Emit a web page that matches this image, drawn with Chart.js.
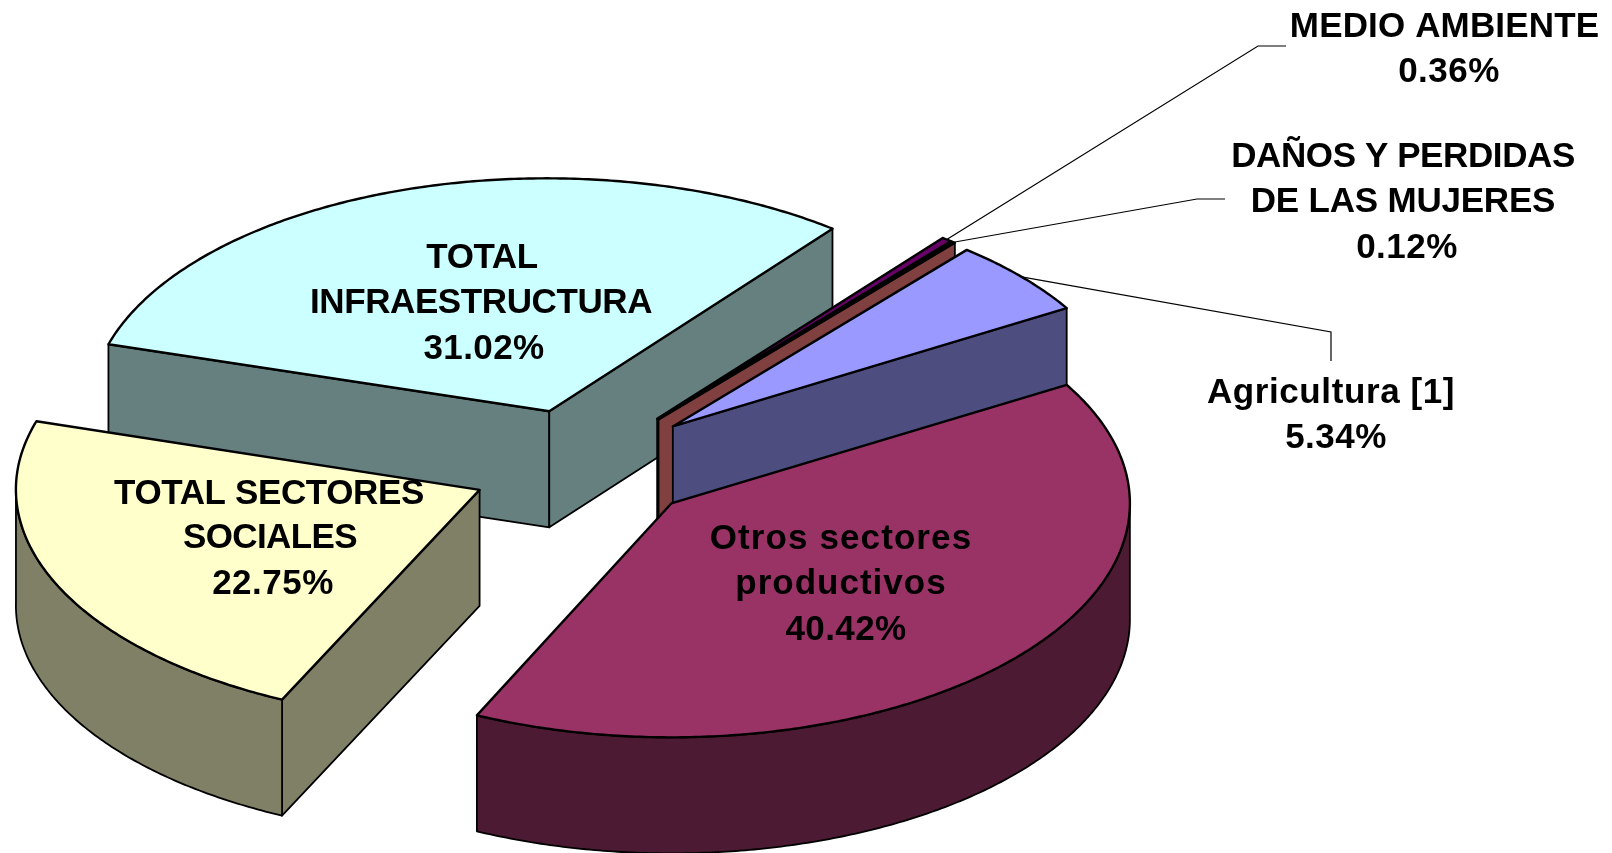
<!DOCTYPE html>
<html>
<head>
<meta charset="utf-8">
<style>
html,body{margin:0;padding:0;background:#fff;}
#wrap{position:relative;width:1612px;height:853px;}
#c{display:block;}
</style>
<script src="https://cdn.jsdelivr.net/npm/chart.js@4/dist/chart.umd.min.js"></script>
</head>
<body>
<div id="wrap"><canvas id="c"></canvas></div>
<script>
// Data, in pie order (clockwise from the start angle)
const categories = ['Otros sectores productivos','TOTAL SECTORES SOCIALES','TOTAL INFRAESTRUCTURA','MEDIO AMBIENTE','DAÑOS Y PERDIDAS DE LAS MUJERES','Agricultura [1]'];
const shares = [40.42, 22.75, 31.02, 0.36, 0.12, 5.34];
const topColors = ['#993366','#FFFFCC','#CCFFFF','#660066','#FF8080','#9999FF'];
const sideColors = ['#4D1A33','#808066','#668080','#330033','#804040','#4D4D80'];
const labelLines = [['Otros sectores','productivos'],['TOTAL SECTORES','SOCIALES'],['TOTAL','INFRAESTRUCTURA'],['MEDIO AMBIENTE'],['DAÑOS Y PERDIDAS','DE LAS MUJERES'],['Agricultura [1]']];

// Styling and layout of the 3D look
const SQUASH = 0.5, DEPTH = 116, EXPLODE = 117, RADIUS = 459.5, START = 59;
const PAINT_ORDER = [2, 1, 3, 4, 5, 0];
const FONT = 'bold 35px "Liberation Sans", Arial, sans-serif';
// small per-slice perspective corrections
const perspective = [
  {dx:0, dy:0, sx:0.998, sy:0.509, shear:-0.02, ky:0.005},
  {dx:2, dy:1, sx:1.009, sy:0.505, shear:-0.025, ky:0.007},
  {dx:1, dy:2.5, sx:1, sy:0.507, shear:0, ky:0.003},
  {dx:0, dy:0, sx:1.008, sy:SQUASH, shear:0, ky:0},
  {dx:0, dy:0, sx:1.008, sy:SQUASH, shear:0, ky:0},
  {dx:0, dy:0, sx:1, sy:SQUASH, shear:0, ky:0}
];
const labelPlaces = [
  [[841,549],[841,594],[846,640]],
  [[269,504],[270,548],[273,594]],
  [[482,268],[481,313],[484,358.5]],
  [[1444.5,37],[1449,82]],
  [[1403,167],[1403,212],[1407,258]],
  [[1331,403],[1336,448]]
];
const labelSpacing = [
  [1.1,1,0.4],
  [-0.37,-0.6,0.5],
  [-0.4,-0.4,0.4],
  [0.15,0.5],
  [-0.4,-0.2,0.5],
  [0.6,0.5]
];
const leaderBends = {
  3: [[1258,46],[1286,46]],
  4: [[1197,199],[1225,199]],
  5: [[1331,332],[1331,361]]
};

function sliceGeometry(arc, i) {
  const p = perspective[i];
  const a0 = arc.startAngle, a1 = arc.endAngle, mid = (a0 + a1) / 2;
  const ox = arc.x + Math.cos(mid) * EXPLODE + p.dx;
  const oy = arc.y + Math.sin(mid) * EXPLODE * SQUASH + p.dy;
  const rim = (a, z) => {
    const X = arc.outerRadius * Math.cos(a), Y = arc.outerRadius * Math.sin(a);
    return [ox + p.sx * X + p.shear * p.sy * Y, oy + p.ky * X + p.sy * Y + (z || 0)];
  };
  return {a0, a1, mid, ox, oy, rim, p};
}
function poly(ctx, pts, closed) {
  ctx.beginPath();
  pts.forEach((p, i) => i ? ctx.lineTo(p[0], p[1]) : ctx.moveTo(p[0], p[1]));
  if (closed) ctx.closePath();
}
function arcPoints(g, lo, hi, z) {
  const n = Math.max(2, Math.ceil((hi - lo) / 0.01)), pts = [];
  for (let i = 0; i <= n; i++) pts.push(g.rim(lo + (hi - lo) * i / n, z));
  return pts;
}
function face(ctx, pts, fill) {
  poly(ctx, pts, true);
  ctx.fillStyle = fill;
  ctx.fill();
  ctx.stroke();
}

const pie3d = {
  id: 'pie3d',
  beforeDatasetDraw(chart, args) {
    const ctx = chart.ctx, arcs = args.meta.data;
    ctx.save();
    ctx.lineJoin = 'round';
    ctx.strokeStyle = '#000';
    PAINT_ORDER.forEach(i => {
      const arc = arcs[i], g = sliceGeometry(arc, i), side = sideColors[i], p = g.p;
      const A = [g.ox, g.oy], B = [g.ox, g.oy + DEPTH];
      ctx.lineWidth = 1.8;
      if (Math.sin(g.a0 - Math.PI / 2) > 0) face(ctx, [A, g.rim(g.a0), g.rim(g.a0, DEPTH), B], side);
      if (Math.sin(g.a1 + Math.PI / 2) > 0) face(ctx, [A, g.rim(g.a1), g.rim(g.a1, DEPTH), B], side);
      for (let k = -1; k <= 1; k++) {
        const lo = Math.max(g.a0, 2 * Math.PI * k), hi = Math.min(g.a1, 2 * Math.PI * k + Math.PI);
        if (hi > lo) face(ctx, arcPoints(g, lo, hi, 0).concat(arcPoints(g, lo, hi, DEPTH).reverse()), side);
      }
      // top surface, drawn by the library's own arc element
      ctx.save();
      ctx.transform(p.sx, p.ky, p.shear * p.sy, p.sy, g.ox, g.oy);
      ctx.translate(-arc.x, -arc.y);
      arc.draw(ctx, chart.chartArea);
      ctx.restore();
      ctx.lineWidth = 2.4;
      poly(ctx, [A].concat(arcPoints(g, g.a0, g.a1, 0)), true);
      ctx.stroke();
    });
    ctx.restore();
    return false;
  },
  afterDatasetsDraw(chart) {
    const ctx = chart.ctx, arcs = chart.getDatasetMeta(0).data;
    ctx.save();
    ctx.strokeStyle = '#000';
    ctx.lineWidth = 1.2;
    Object.keys(leaderBends).forEach(i => {
      const g = sliceGeometry(arcs[i], i);
      poly(ctx, [g.rim(g.mid)].concat(leaderBends[i]), false);
      ctx.stroke();
    });
    ctx.fillStyle = '#000';
    ctx.font = FONT;
    ctx.textAlign = 'center';
    ctx.textBaseline = 'alphabetic';
    shares.forEach((v, i) => {
      const lines = labelLines[i].concat([v.toFixed(2) + '%']);
      lines.forEach((t, j) => {
        ctx.letterSpacing = labelSpacing[i][j] + 'px';
        ctx.fillText(t, labelPlaces[i][j][0], labelPlaces[i][j][1]);
      });
    });
    ctx.restore();
  }
};

new Chart(document.getElementById('c'), {
  type: 'pie',
  data: {
    labels: categories,
    datasets: [{
      data: shares,
      backgroundColor: topColors,
      borderWidth: 0,
      radius: RADIUS,
      clip: false
    }]
  },
  options: {
    responsive: true,
    maintainAspectRatio: false,
    animation: false,
    rotation: START,
    layout: {padding: {left: 0, right: 444, top: 76, bottom: 0}},
    plugins: {legend: {display: false}, tooltip: {enabled: false}, title: {display: false}}
  },
  plugins: [pie3d]
});
</script>
</body>
</html>
